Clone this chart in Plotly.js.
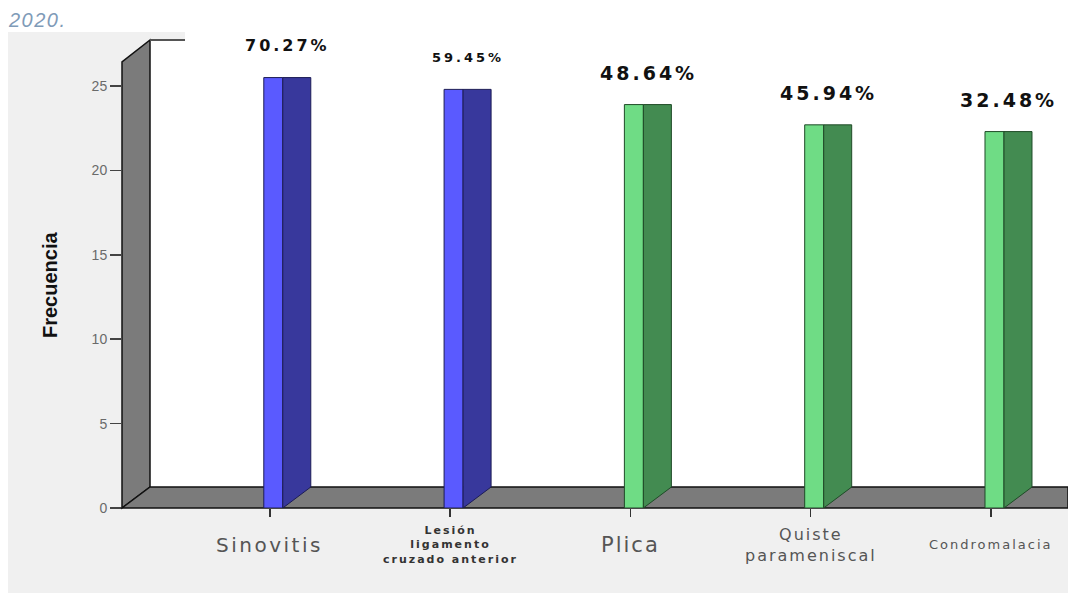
<!DOCTYPE html>
<html>
<head>
<meta charset="utf-8">
<script src="https://cdn.plot.ly/plotly-3.0.1.min.js"></script>
<style>
  html, body { margin: 0; padding: 0; background: #ffffff; }
  #chart { width: 1068px; height: 594px; }
</style>
</head>
<body>
<div id="chart"></div>
<script>
// ---- data ----
const categories = ['Sinovitis', 'Lesión<br>ligamento<br>cruzado anterior', 'Plica', 'Quiste<br>parameniscal', 'Condromalacia'];
const frecuencia = [25.5, 24.8, 23.9, 22.7, 22.3];
const porcentajes = ['70.27%', '59.45%', '48.64%', '45.94%', '32.48%'];
const yTickVals = [0, 5, 10, 15, 20, 25];
const yTickText = ['0', '5', '10', '15', '20', '25'];

// ---- styles ----
const frontColors = ['#5a5aff', '#5a5aff', '#6fdc85', '#6fdc85', '#6fdc85'];
const sideColors = ['#38389c', '#38389c', '#438b51', '#438b51', '#438b51'];
const edgeColors = ['#1c1c55', '#1c1c55', '#1f4a27', '#1f4a27', '#1f4a27'];
const pctSizes = [16, 13, 19, 19, 19];
const labelSizes = [20, 11, 21, 16, 13];
const labelBold = [false, true, false, false, false];
const labelSpacing = [2.5, 2, 2, 2, 2];

// geometry of the pseudo-3D (axis units)
const barOffset = -0.0333, barWidth = 0.1054;
const depthX = 0.1553, depthY = 1.244;

const idx = categories.map((c, i) => i);

const traces = [];
// side faces
idx.forEach(i => {
  const xr = i + barOffset + barWidth;
  const v = frecuencia[i];
  traces.push({
    type: 'scatter', mode: 'lines', fill: 'toself',
    x: [xr, xr + depthX, xr + depthX, xr, xr],
    y: [0, depthY, v, v, 0],
    fillcolor: sideColors[i],
    line: { color: edgeColors[i], width: 1 },
    hoverinfo: 'skip', showlegend: false
  });
});
// front faces
traces.push({
  type: 'bar', x: idx, y: frecuencia,
  width: barWidth, offset: barOffset,
  marker: { color: frontColors, line: { color: edgeColors, width: 1 } },
  hoverinfo: 'skip', showlegend: false
});

const annotations = [];
idx.forEach(i => {
  annotations.push({
    x: i, y: frecuencia[i], xref: 'x', yref: 'y',
    text: '<span style="letter-spacing:3px">' + porcentajes[i] + '</span>',
    showarrow: false, xanchor: 'center', yanchor: 'middle',
    xshift: 18, yshift: 32,
    font: { family: 'DejaVu Sans', size: pctSizes[i], color: '#111111', weight: 'bold' }
  });
  annotations.push({
    x: i, y: -0.0777, xref: 'x', yref: 'paper',
    text: '<span style="letter-spacing:' + labelSpacing[i] + 'px">' + categories[i] + '</span>',
    showarrow: false, xanchor: 'center', yanchor: 'middle', align: 'center',
    font: { family: 'DejaVu Sans', size: labelSizes[i], color: labelBold[i] ? '#333333' : '#555555', weight: labelBold[i] ? 'bold' : 'normal' }
  });
});
annotations.push({
  x: -0.0761, y: 0.4685, xref: 'paper', yref: 'paper',
  text: 'Frecuencia', textangle: -90, showarrow: false,
  xanchor: 'center', yanchor: 'middle',
  font: { family: 'Liberation Sans', size: 20, color: '#111111', weight: 'bold' }
});

// paper coords: px -> (px-122)/946, py -> (508-py)/476
const shapes = [
  { type: 'rect', xref: 'paper', yref: 'paper', x0: -0.1205, x1: 1, y0: -0.1786, y1: 1,
    fillcolor: '#f0f0f0', line: { width: 0 }, layer: 'below' },
  { type: 'path', xref: 'paper', yref: 'paper',
    path: 'M 0.0296 0.9832 L 0.0666 0.9832 L 0.0666 1 L 1 1 L 1 0.0441 L 0.0296 0.0441 Z',
    fillcolor: '#ffffff', line: { width: 0 }, layer: 'below' },
  { type: 'path', xref: 'paper', yref: 'paper',
    path: 'M 0 0 L 0.0296 0.0441 L 0.0296 0.9832 L 0 0.937 Z',
    fillcolor: '#7b7b7b', line: { color: '#111111', width: 1.5 }, layer: 'below' },
  { type: 'line', xref: 'paper', yref: 'paper', x0: 0.0296, x1: 0.0666, y0: 0.9832, y1: 0.9832,
    line: { color: '#555555', width: 2 }, layer: 'below' },
  { type: 'path', xref: 'paper', yref: 'paper',
    path: 'M 0 0 L 1 0 L 1 0.0441 L 0.0296 0.0441 Z',
    fillcolor: '#7b7b7b', line: { color: '#111111', width: 1.5 }, layer: 'below' }
];

const layout = {
  width: 1068, height: 594,
  margin: { l: 122, r: 0, t: 32, b: 86, pad: 0 },
  paper_bgcolor: '#ffffff', plot_bgcolor: 'rgba(0,0,0,0)',
  showlegend: false, hovermode: false,
  title: { text: '<span style="letter-spacing:1.5px">2020.</span>', x: 9 / 1068, xanchor: 'left', xref: 'container',
           y: 1 - 20 / 594, yanchor: 'middle', yref: 'container',
           font: { family: 'Liberation Sans', size: 20, color: '#7f9bb8', style: 'italic' } },
  xaxis: {
    range: [-0.8197, 4.4271], tickvals: idx, showticklabels: false,
    ticks: 'outside', ticklen: 8, tickwidth: 1.5, tickcolor: '#333333',
    showgrid: false, zeroline: false, showline: false, fixedrange: true
  },
  yaxis: {
    range: [0, 28.2], tickvals: yTickVals, ticktext: yTickText,
    ticks: 'outside', ticklen: 11, tickwidth: 1.5, tickcolor: '#444444',
    tickfont: { family: 'Liberation Sans', size: 14, color: '#6a6a6a' },
    showgrid: false, zeroline: false, showline: false, fixedrange: true
  },
  shapes: shapes,
  annotations: annotations
};

Plotly.newPlot('chart', traces, layout, { staticPlot: true, displayModeBar: false });
</script>
</body>
</html>
